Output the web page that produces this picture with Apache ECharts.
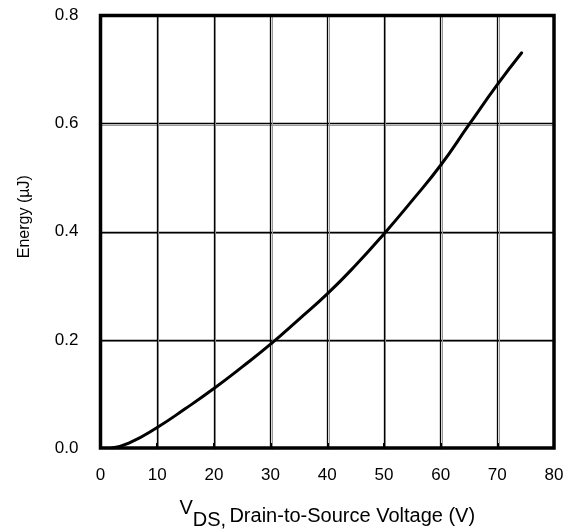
<!DOCTYPE html>
<html>
<head>
<meta charset="utf-8">
<script src="https://cdn.jsdelivr.net/npm/echarts@6/dist/echarts.min.js"></script>
<style>html,body{margin:0;padding:0;background:#fff}#c{width:577px;height:532px}</style>
</head>
<body>
<div id="c"></div>
<script>
var voltage = [2, 5, 10, 15, 20, 25, 30, 35, 40, 45, 50, 55, 60, 65, 70, 74.3];
var energy  = [0, 0.009, 0.038, 0.073, 0.11, 0.15, 0.192, 0.238, 0.285, 0.338, 0.396, 0.458, 0.523, 0.598, 0.672, 0.731];
var xTicks = [0, 10, 20, 30, 40, 50, 60, 70, 80];
var yTicks = ['0.0', '0.2', '0.4', '0.6', '0.8'];

var font = 'Liberation Sans, Arial, sans-serif';
var chart = echarts.init(document.getElementById('c'));
var gridPos = {left: 100.5, right: 23, top: 15.5, bottom: 84};
var data = voltage.map(function (v, i) { return [v, energy[i]]; });

chart.setOption({
  animation: false,
  grid: [
    {left: gridPos.left + 1.5, right: gridPos.right - 1.5, top: gridPos.top + 1.5, bottom: gridPos.bottom - 1.5, show: false, outerBoundsMode: 'none', containLabel: false},
    {left: gridPos.left, right: gridPos.right, top: gridPos.top, bottom: gridPos.bottom, show: true, borderColor: '#000', borderWidth: 3.5, backgroundColor: 'transparent', z: 5, outerBoundsMode: 'none', containLabel: false}
  ],
  xAxis: [
    {gridIndex: 0, type: 'value', min: 0, max: 80, interval: 10, axisLine: {show: false}, axisTick: {show: false}, axisLabel: {show: false},
     splitLine: {show: true, showMinLine: false, showMaxLine: false, lineStyle: {color: '#999', width: 1}}},
    {gridIndex: 1, type: 'value', min: 0, max: 80, interval: 10,
     name: '{a|V}{b|DS,} {c|Drain-to-Source Voltage (V)}', nameLocation: 'middle', nameGap: 39,
     nameTextStyle: {rich: {
       a: {fontSize: 20, fontFamily: font, color: '#000'},
       b: {fontSize: 20, fontFamily: font, color: '#000', padding: [23, 0, 0, 0]},
       c: {fontSize: 20, fontFamily: font, color: '#000', padding: [15, 0, 0, 0]}
     }},
     axisLine: {show: false},
     axisTick: {show: true, inside: true, length: 5, lineStyle: {color: '#000', width: 2}},
     axisLabel: {margin: 18.5, fontSize: 17, fontFamily: font, color: '#000',
       formatter: function (v) { return xTicks.indexOf(v) >= 0 ? String(v) : ''; }},
     splitLine: {show: true, showMinLine: false, showMaxLine: false, lineStyle: {color: '#000', width: 1.3}}}
  ],
  yAxis: [
    {gridIndex: 0, type: 'value', min: 0, max: 0.8, interval: 0.2, axisLine: {show: false}, axisTick: {show: false}, axisLabel: {show: false},
     splitLine: {show: true, showMinLine: false, showMaxLine: false, lineStyle: {color: '#999', width: 1}}},
    {gridIndex: 1, type: 'value', min: 0, max: 0.8, interval: 0.2,
     name: 'Energy (\u00b5J)', nameLocation: 'middle', nameGap: 68, nameRotate: 90,
     nameTextStyle: {fontSize: 16, fontFamily: font, color: '#000', padding: [0, 0, 0, 30]},
     axisLine: {show: false}, axisTick: {show: false},
     axisLabel: {margin: 22, fontSize: 17, fontFamily: font, color: '#000',
       formatter: function (v) { return yTicks[Math.round(v / 0.2)]; }},
     splitLine: {show: true, showMinLine: false, showMaxLine: false, lineStyle: {color: '#000', width: 1.3}}}
  ],
  series: [{
    type: 'line', xAxisIndex: 1, yAxisIndex: 1, data: data, smooth: true, showSymbol: false,
    lineStyle: {color: '#000', width: 3, cap: 'round'}, z: 10
  }]
});
</script>
</body>
</html>
